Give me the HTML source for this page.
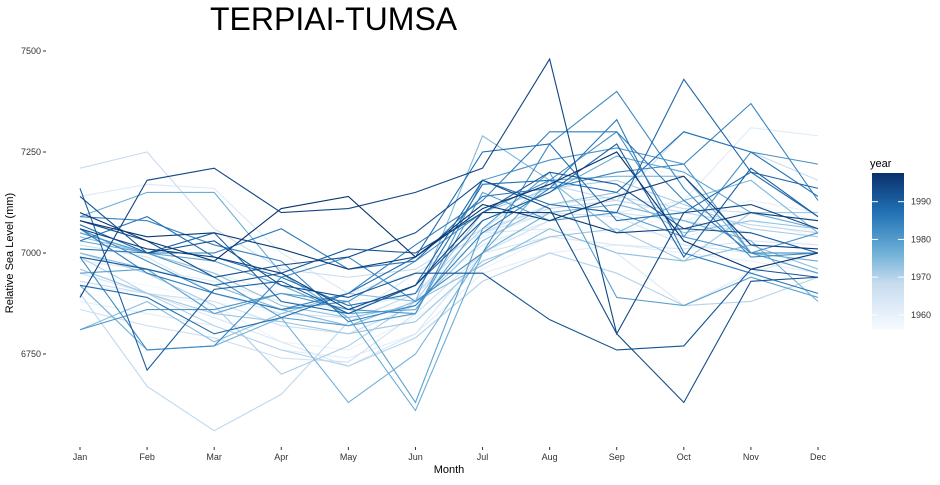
<!DOCTYPE html>
<html><head><meta charset="utf-8"><style>
body{margin:0;background:#fff;font-family:"Liberation Sans",sans-serif}
svg text{font-family:"Liberation Sans",sans-serif}
</style></head><body>
<svg id="c" width="940" height="480">
<defs><linearGradient id="g" x1="0" y1="1" x2="0" y2="0">
<stop offset="0" stop-color="#f7fbff"/><stop offset="0.3" stop-color="#c6dbef"/><stop offset="0.5" stop-color="#6baed6"/><stop offset="0.75" stop-color="#2171b5"/><stop offset="1" stop-color="#08306b"/></linearGradient></defs>
<text x="210" y="30" font-size="32" fill="#000">TERPIAI-TUMSA</text>
<text transform="translate(13,253) rotate(-90)" text-anchor="middle" font-size="11">Relative Sea Level (mm)</text>
<text x="449" y="473" text-anchor="middle" font-size="11">Month</text>
<g id="axes"></g><g id="lines"></g>
<text x="870" y="167" font-size="11">year</text>
<rect x="872" y="173" width="32" height="157" fill="url(#g)"/>
<g id="leg"></g>
</svg>
<script>
const months=["Jan","Feb","Mar","Apr","May","Jun","Jul","Aug","Sep","Oct","Nov","Dec"];
const yTicks=[6750,7000,7250,7500];
const legendTicks=[1960,1970,1980,1990];
const years=[1956,1957,1958,1959,1960,1961,1962,1963,1964,1965,1966,1967,1968,1969,1970,1971,1972,1973,1974,1975,1976,1977,1978,1979,1980,1981,1982,1983,1984,1985,1986,1987,1988,1989,1990,1991,1992,1993,1994,1995,1996,1997];
const levels=[
[6900,6880,6860,6830,6800,6850,6980,7050,7080,7060,7050,7020],
[6950,6920,6880,6850,6820,6870,7000,7080,7100,7080,7100,7050],
[7000,6950,6900,6860,6850,6880,7020,7060,7050,7100,7120,7080],
[6920,6900,6870,6780,6760,6840,6960,7040,7060,7040,7080,7040],
[7050,7000,6950,6900,6880,6900,7040,7100,7120,7080,7130,7100],
[6880,6850,6820,6760,6740,6800,6950,7000,7020,7000,6980,6950],
[6980,6960,6930,6880,6860,6900,7020,7080,7100,7130,7310,7290],
[7140,7170,7160,7000,6900,6950,7050,7060,7000,6870,6950,7000],
[6950,6900,6840,6780,6720,6800,7000,7040,7020,7010,7030,7020],
[7020,6990,6900,6850,6840,6950,7050,7100,7090,7020,7000,7000],
[6860,6820,6790,6740,6730,6850,7000,7080,7100,7080,7050,7000],
[6930,6900,6880,6820,6800,6870,7050,7120,7140,7110,7100,7080],
[7210,7250,7060,6960,6940,6960,7060,7110,7130,7300,7250,7180],
[6900,6670,6560,6650,6830,6900,7060,7170,7130,7100,7070,7050],
[6990,6900,6820,6760,6720,6790,6930,7000,6950,6870,6880,6940],
[7000,6950,6870,6700,6770,6880,7100,7160,7180,7120,7060,7040],
[6960,6900,6850,6830,6800,6830,6980,7040,7060,6980,7100,7100],
[7040,7000,6950,6870,6840,6870,7030,7120,7150,7050,7080,7060],
[6810,6880,6780,6850,6900,6880,6970,7060,7000,6980,7020,6960],
[7000,6960,6920,6860,6820,6880,7290,7180,7050,7130,7180,7050],
[6920,6760,6770,6840,6630,6750,7000,7100,7120,7080,7030,6880],
[7090,7150,7150,6950,6840,6610,7000,7180,7190,7190,7000,6980],
[7030,7000,6980,6920,6850,6860,7080,7150,7240,7200,7100,7060],
[6950,6960,6850,6900,6880,6630,7060,7200,6890,6870,6940,6890],
[7050,7000,6940,6840,6820,6850,7150,7080,7100,7040,7000,6950],
[6810,6860,6860,6900,6860,6850,7180,7230,7260,7220,7000,7050],
[7060,6980,6900,6860,6880,6980,7100,7180,7300,7040,7250,7220],
[6990,6760,6770,6940,6990,6880,7000,7270,7400,7160,6990,7000],
[7090,7080,7020,6980,6830,6870,7050,7160,7200,7220,7370,7130],
[7060,6950,6900,6860,6900,7020,7130,7300,7300,7130,7000,7000],
[7010,7000,7000,7060,6960,6980,7140,7160,7330,7000,6950,6900],
[7030,7090,6990,6940,6870,6900,7170,7180,7150,7300,7250,7140],
[6920,6890,6800,6840,6900,6990,7250,7270,7080,7100,7200,7090],
[7070,7000,7050,6880,6850,6920,7180,7120,7100,7430,7200,7160],
[7160,6710,6910,6930,6850,6920,7080,7150,7270,6990,7210,7090],
[6990,6960,6920,6950,7010,7000,7100,7200,7170,7060,7050,7000],
[7140,7000,7030,6920,6890,6950,6950,6835,6760,6770,6960,6940],
[7080,7030,6940,6970,6990,7050,7180,7110,6800,6630,6930,6940],
[6890,7180,7210,7100,7110,7150,7210,7480,6800,7100,7120,7060],
[7060,7010,6990,6950,6860,6920,7100,7100,7050,7060,7100,7080],
[7080,7040,7050,7010,6960,6990,7120,7080,7140,7190,7020,7010],
[7100,7030,6980,7110,7140,6990,7110,7170,7250,7030,6960,7000]];
const NS="http://www.w3.org/2000/svg";
const x=i=>80+i*(818-80)/11;
const y=v=>253-(v-7000)*101/250;
const minY=1956,maxY=1997.6;
const ly=yr=>330-(yr-minY)/(maxY-minY)*157;
const stops=[[0,[247,251,255]],[0.3,[198,219,239]],[0.5,[107,174,214]],[0.75,[33,113,181]],[1,[8,48,107]]];
function col(yr){let t=(yr-minY)/(maxY-minY);t=Math.max(0,Math.min(1,t));
for(let k=1;k<stops.length;k++){if(t<=stops[k][0]){const a=stops[k-1],b=stops[k],f=(t-a[0])/(b[0]-a[0]);
return "rgb("+a[1].map((c,j)=>Math.round(c+(b[1][j]-c)*f)).join(",")+")";}}return "rgb(8,48,107)";}
const ax=document.getElementById('axes');
yTicks.forEach(v=>{const t=document.createElementNS(NS,'text');
t.setAttribute('x',41);t.setAttribute('y',y(v)+3);t.setAttribute('text-anchor','end');t.setAttribute('font-size','9');t.setAttribute('fill','#333');t.textContent=v;


ax.appendChild(t);
const l=document.createElementNS(NS,'line');l.setAttribute('x1',43);l.setAttribute('x2',46);l.setAttribute('y1',y(v));l.setAttribute('y2',y(v));l.setAttribute('stroke','#333');


ax.appendChild(l);});
months.forEach((m,i)=>{const t=document.createElementNS(NS,'text');
t.setAttribute('x',x(i));t.setAttribute('y',460);t.setAttribute('text-anchor','middle');t.setAttribute('font-size','9');t.setAttribute('fill','#333');t.textContent=m;


ax.appendChild(t);
const l=document.createElementNS(NS,'line');l.setAttribute('x1',x(i));l.setAttribute('x2',x(i));l.setAttribute('y1',447);l.setAttribute('y2',450);l.setAttribute('stroke','#333');


ax.appendChild(l);});
const lg=document.getElementById('lines');
years.forEach((yr,k)=>{const p=document.createElementNS(NS,'polyline');
p.setAttribute('points',levels[k].map((v,i)=>x(i)+','+y(v)).join(' '));
p.setAttribute('fill','none');p.setAttribute('stroke',col(yr));p.setAttribute('stroke-width','1.1');


lg.appendChild(p);});
const leg=document.getElementById('leg');
legendTicks.forEach(yr=>{[872,898].forEach(x0=>{const l=document.createElementNS(NS,'line');
l.setAttribute('x1',x0);l.setAttribute('x2',x0+6);l.setAttribute('y1',ly(yr));l.setAttribute('y2',ly(yr));l.setAttribute('stroke','#fff');


leg.appendChild(l);});
const t=document.createElementNS(NS,'text');t.setAttribute('x',911);t.setAttribute('y',ly(yr)+3);t.setAttribute('font-size','9');t.setAttribute('fill','#333');t.textContent=yr;


leg.appendChild(t);});
</script>
</body></html>
